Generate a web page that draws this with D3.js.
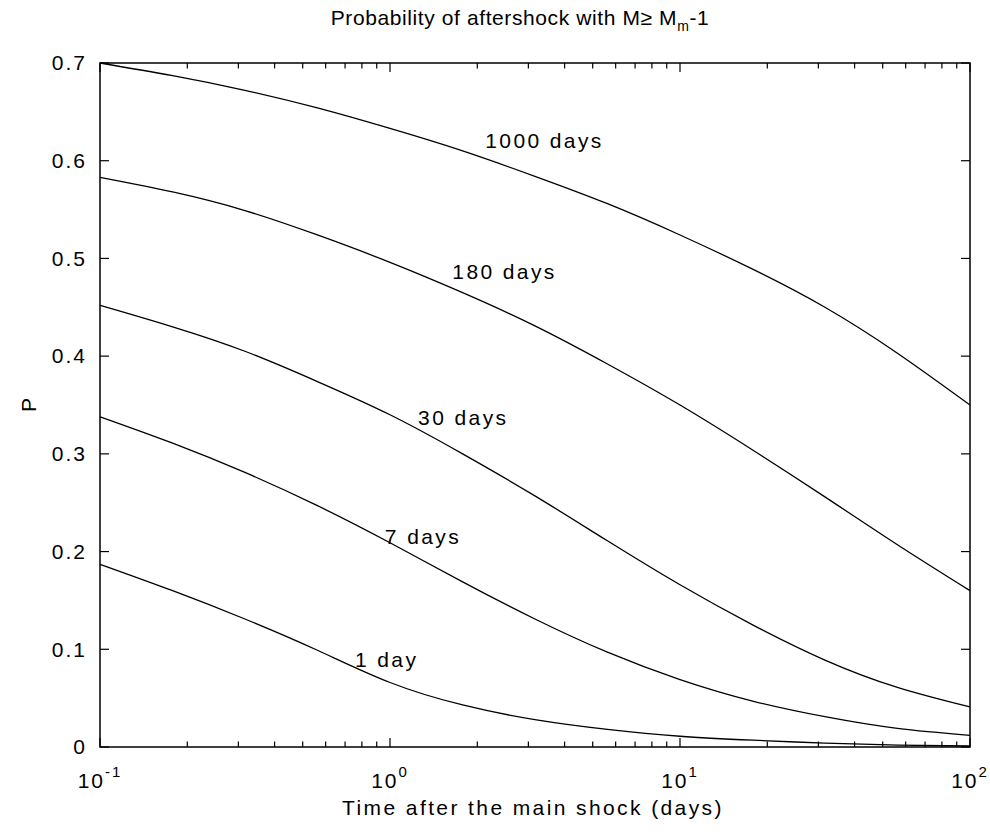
<!DOCTYPE html>
<html>
<head>
<meta charset="utf-8">
<script src="https://cdn.jsdelivr.net/npm/d3@7"></script>
<style>
  body { margin: 0; background: #fff; }
  text { font-family: "Liberation Sans", Arial, sans-serif; fill: #000; }
</style>
</head>
<body>
<svg id="chart" width="990" height="834"></svg>
<script>
// time after main shock (days), read at regular spots on the log axis
const timeDays = [0.1, 0.178, 0.316, 0.562, 1, 1.78, 3.16, 5.62, 10, 17.8, 31.6, 56.2, 100];

const p1000 = [0.700, 0.687, 0.672, 0.654, 0.633, 0.610, 0.584, 0.556, 0.524, 0.489, 0.450, 0.403, 0.350];
const p180  = [0.583, 0.568, 0.549, 0.524, 0.496, 0.465, 0.431, 0.392, 0.350, 0.304, 0.256, 0.207, 0.160];
const p30   = [0.452, 0.430, 0.405, 0.374, 0.340, 0.300, 0.257, 0.211, 0.166, 0.125, 0.089, 0.061, 0.041];
const p7    = [0.338, 0.311, 0.281, 0.247, 0.209, 0.169, 0.131, 0.097, 0.069, 0.047, 0.031, 0.019, 0.012];
const p1    = [0.187, 0.160, 0.131, 0.099, 0.066, 0.043, 0.028, 0.018, 0.011, 0.007, 0.004, 0.002, 0.001];

const seriesNames = ["1000 days", "180 days", "30 days", "7 days", "1 day"];
const seriesVals = [p1000, p180, p30, p7, p1];
// where each curve label sits (days, P)
const labelT = [2.13, 1.64, 1.25, 0.96, 0.757];
const labelP = [0.621, 0.486, 0.337, 0.215, 0.089];

const yTicks = [0, 0.1, 0.2, 0.3, 0.4, 0.5, 0.6, 0.7];
const xTickExp = [-1, 0, 1, 2];

const pLeft = 100, pRight = 970, pTop = 63, pBottom = 747;
const fs = "21px", ls = "2.4px";

const svg = d3.select("#chart");

let x = d3.scaleLog().domain([0.1, 100]).range([pLeft, pRight]);
let y = d3.scaleLinear().domain([0, 0.7]).range([pBottom, pTop]);

// curves
let line = d3.line()
    .x((d) => x(d[0]))
    .y((d) => y(d[1]))
    .curve(d3.curveNatural);

seriesVals.forEach((vals, i) => {
    svg.append("path")
        .datum(timeDays.map((t, j) => [t, vals[j]]))
        .attr("d", line)
        .attr("fill", "none")
        .attr("stroke", "#000")
        .attr("stroke-width", 1.3);

    svg.append("text")
        .attr("x", x(labelT[i]))
        .attr("y", y(labelP[i]))
        .attr("dy", "0.35em")
        .style("font-size", fs)
        .style("letter-spacing", ls)
        .text(seriesNames[i]);
});

// ticks, all inward, on both sides (matlab box)
const tickLen = 9;
let minor = [];
for (let e = -1; e < 2; e++) {
    for (let k = 2; k <= 9; k++) minor.push(k * Math.pow(10, e));
}
let majorX = xTickExp.map((e) => Math.pow(10, e));

let g = svg.append("g").attr("stroke", "#000").attr("stroke-width", 1.2);

[pBottom, pTop].forEach((yy) => {
    let dir = yy === pBottom ? -1 : 1;
    majorX.concat(minor).forEach((t) => {
        let len = majorX.includes(t) ? tickLen : tickLen * 0.6;
        g.append("line")
            .attr("x1", x(t)).attr("x2", x(t))
            .attr("y1", yy).attr("y2", yy + dir * len);
    });
});

[pLeft, pRight].forEach((xx) => {
    let dir = xx === pLeft ? 1 : -1;
    yTicks.forEach((v) => {
        g.append("line")
            .attr("x1", xx).attr("x2", xx + dir * tickLen)
            .attr("y1", y(v)).attr("y2", y(v));
    });
});

// box
svg.append("rect")
    .attr("x", pLeft).attr("y", pTop)
    .attr("width", pRight - pLeft).attr("height", pBottom - pTop)
    .attr("fill", "none")
    .attr("stroke", "#000")
    .attr("stroke-width", 1.5);

// y tick labels
svg.selectAll(".ylab")
    .data(yTicks)
    .enter()
    .append("text")
    .attr("class", "ylab")
    .attr("x", pLeft - 13)
    .attr("y", (d) => y(d))
    .attr("dy", "0.35em")
    .attr("text-anchor", "end")
    .style("font-size", fs)
    .style("letter-spacing", "2px")
    .text((d) => d3.format("")(d));

// x tick labels 10^e
xTickExp.forEach((e) => {
    let t = svg.append("text")
        .attr("x", x(Math.pow(10, e)))
        .attr("y", pBottom + 41)
        .attr("text-anchor", "middle")
        .style("font-size", fs)
        .style("letter-spacing", "2px");
    t.append("tspan").text("10");
    t.append("tspan")
        .attr("dy", -11)
        .style("font-size", "15px")
        .text(e);
});

// title
let title = svg.append("text")
    .attr("x", 520)
    .attr("y", 25)
    .attr("text-anchor", "middle")
    .style("font-size", fs)
    .style("letter-spacing", "0.6px");
title.append("tspan").text("Probability of aftershock with M\u2265 M");
title.append("tspan").attr("dy", 6).style("font-size", "14px").text("m");
title.append("tspan").attr("dy", -6).text("-1");

// axis labels
svg.append("text")
    .attr("x", 533)
    .attr("y", 815)
    .attr("text-anchor", "middle")
    .style("font-size", fs)
    .style("letter-spacing", ls)
    .text("Time after the main shock (days)");

svg.append("text")
    .attr("transform", "translate(36," + ((pTop + pBottom) / 2) + ") rotate(-90)")
    .attr("text-anchor", "middle")
    .style("font-size", fs)
    .text("P");
</script>
</body>
</html>
